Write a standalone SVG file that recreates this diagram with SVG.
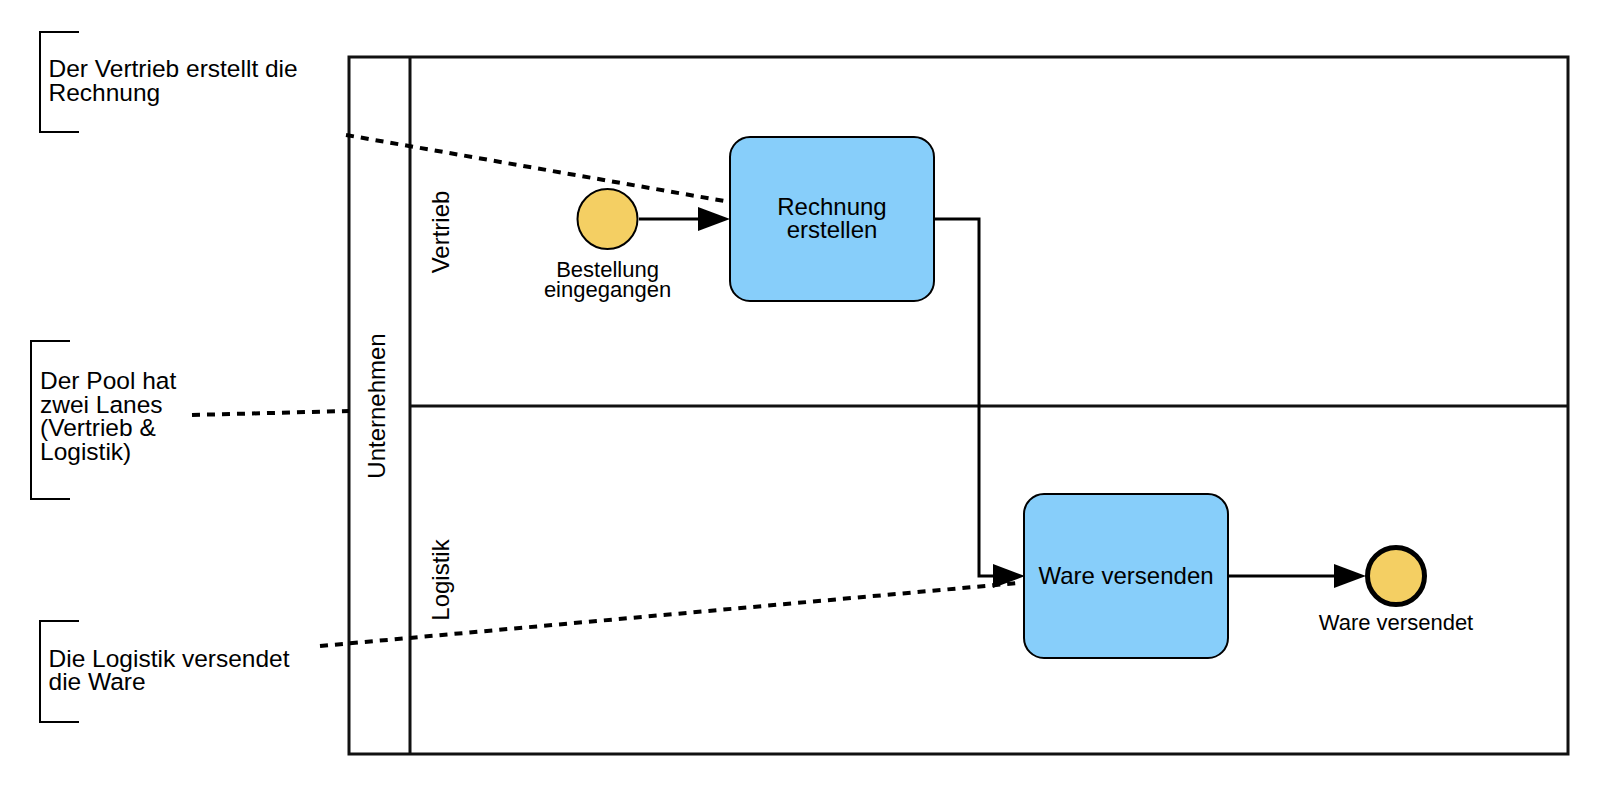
<svg xmlns="http://www.w3.org/2000/svg" width="1600" height="804" viewBox="0 0 1600 804">
<style>
text{font-family:"Liberation Sans",Arial,sans-serif;fill:#000}
.ann{font-size:24.5px}
.lbl{font-size:24px}
.ev{font-size:22px;text-anchor:middle}
.task{fill:#87CEFA;stroke:#000;stroke-width:2}
.bracket{fill:none;stroke:#000;stroke-width:2}
.assoc{fill:none;stroke:#000;stroke-width:4;stroke-dasharray:8 7}
.flow{fill:none;stroke:#000;stroke-width:3}
.pool{fill:#fff;stroke:#111;stroke-width:3}
</style>
<defs>
<marker id="arr" markerUnits="userSpaceOnUse" markerWidth="34" markerHeight="26" refX="0" refY="12" orient="auto" viewBox="0 0 34 26">
<path d="M0,0 L32,12 L0,24 Z" fill="#000"/>
</marker>
</defs>
<g id="pool">
<rect class="pool" x="349" y="57" width="1219" height="697"/>
<line class="pool" x1="410" y1="57" x2="410" y2="754"/>
<line class="pool" x1="410" y1="406" x2="1568" y2="406"/>
<text class="lbl" text-anchor="middle" transform="translate(385,406) rotate(-90)">Unternehmen</text>
</g>
<g id="lane-vertrieb">
<text class="lbl" text-anchor="middle" transform="translate(449,232) rotate(-90)">Vertrieb</text>
</g>
<g id="lane-logistik">
<text class="lbl" text-anchor="middle" transform="translate(449,580) rotate(-90)">Logistik</text>
</g>
<g id="connectors">
<path class="assoc" d="M346,135 L730,202"/>
<path class="assoc" d="M192,415 L349,411"/>
<path class="assoc" d="M320,646 L1018,583"/>
<path class="flow" d="M639,219 H698" marker-end="url(#arr)"/>
<path class="flow" d="M934,219 H979 V576 H993" marker-end="url(#arr)"/>
<path class="flow" d="M1228,576 H1334" marker-end="url(#arr)"/>
</g>
<g id="ann-vertrieb">
<path class="bracket" d="M79,32 H40 V132 H79"/>
<text class="ann" x="48.5" y="77">Der Vertrieb erstellt die</text>
<text class="ann" x="48.5" y="101">Rechnung</text>
</g>
<g id="ann-pool">
<path class="bracket" d="M70,341 H31 V499 H70"/>
<text class="ann" x="40" y="389">Der Pool hat</text>
<text class="ann" x="40" y="412.5">zwei Lanes</text>
<text class="ann" x="40" y="436">(Vertrieb &amp;</text>
<text class="ann" x="40" y="459.5">Logistik)</text>
</g>
<g id="ann-logistik">
<path class="bracket" d="M79,621 H40 V722 H79"/>
<text class="ann" x="48.5" y="667">Die Logistik versendet</text>
<text class="ann" x="48.5" y="690">die Ware</text>
</g>
<g id="start-event">
<circle cx="607.5" cy="219" r="30" fill="#F4CF63" stroke="#000" stroke-width="2"/>
<text class="ev" x="607.5" y="276.5">Bestellung</text>
<text class="ev" x="607.5" y="296.5">eingegangen</text>
</g>
<g id="task-rechnung">
<rect class="task" x="730" y="137" width="204" height="164" rx="20"/>
<text class="lbl" text-anchor="middle" x="832" y="215">Rechnung</text>
<text class="lbl" text-anchor="middle" x="832" y="238">erstellen</text>
</g>
<g id="task-ware">
<rect class="task" x="1024" y="494" width="204" height="164" rx="20"/>
<text class="lbl" text-anchor="middle" x="1126" y="584">Ware versenden</text>
</g>
<g id="end-event">
<circle cx="1396" cy="576" r="28.5" fill="#F4CF63" stroke="#000" stroke-width="5"/>
<text class="ev" x="1396" y="630">Ware versendet</text>
</g>
</svg>
